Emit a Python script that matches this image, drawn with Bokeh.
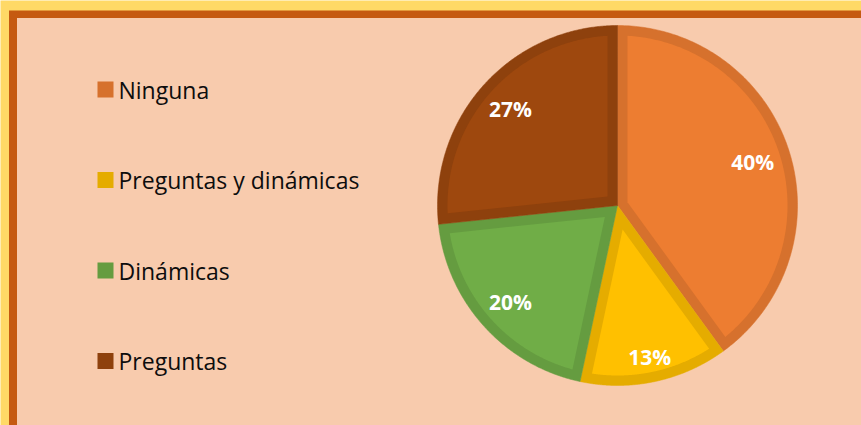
import numpy as np
from bokeh.plotting import figure
from bokeh.models import Range1d, ColumnDataSource
from bokeh.core.properties import value
from bokeh.embed import file_html
from bokeh.resources import INLINE

# ---------------- data ----------------
categories = ["Ninguna", "Preguntas y dinámicas", "Dinámicas", "Preguntas"]
counts = [6, 2, 3, 4]
fill_colors = ["#ED7D31", "#FFC000", "#70AD47", "#9E480E"]
edge_colors = ["#D6712D", "#E5AC00", "#659C40", "#8E410D"]

# ---------------- layout constants (page pixel coordinates) ----------------
CX, CY, R = 617.0, 205.0, 180.0
BAND = 10.0
LABEL_R = [0.79, 0.86, 0.80, 0.80]
LEG_SQ_X, LEG_TXT_X = 105.0, 118.0
LEG_Y0, LEG_DY = 89.0, 90.5

total = float(sum(counts))
fracs = [c / total for c in counts]
pct_labels = [f"{round(100 * f):d}%" for f in fracs]


def pt(t, r, cx=CX, cy=CY):
    # t: clockwise angle from 12 o'clock; y axis grows downward
    return cx + r * np.sin(t), cy - r * np.cos(t)


outer_xs, outer_ys, inner_xs, inner_ys, lab_x, lab_y = [], [], [], [], [], []
start = 0.0
for i, f in enumerate(fracs):
    t1, t2 = start, start + 2 * np.pi * f
    ts = np.linspace(t1, t2, 200)
    ax, ay = pt(ts, R)
    outer_xs.append(list(np.concatenate([[CX], ax])))
    outer_ys.append(list(np.concatenate([[CY], ay])))
    half = (t2 - t1) / 2
    mid = t1 + half
    apex_r = BAND / np.sin(min(half, np.pi / 2))
    px, py = pt(mid, apex_r)
    beta = np.arcsin(BAND / (R - BAND))
    ts2 = np.linspace(t1 + beta, t2 - beta, 200)
    bx, by = pt(ts2, R - BAND)
    inner_xs.append(list(np.concatenate([[px], bx])))
    inner_ys.append(list(np.concatenate([[py], by])))
    lx, ly = pt(mid, LABEL_R[i] * R)
    lab_x.append(lx)
    lab_y.append(ly)
    start = t2

W, H = 861, 425
p = figure(width=W, height=H, output_backend="svg", toolbar_location=None,
           x_range=Range1d(0, W), y_range=Range1d(H, 0),
           x_axis_type=None, y_axis_type=None, min_border=0)
p.grid.visible = False
p.outline_line_color = None
p.background_fill_color = "#FFD966"
p.border_fill_color = "#FFD966"

# frame bands
p.quad(left=[8.5], right=[900], top=[10], bottom=[500], fill_color="#C55A11", line_color=None)
p.quad(left=[16.5], right=[900], top=[17.5], bottom=[500], fill_color="#F8CBAD", line_color=None)

# pie
p.patches(xs=outer_xs, ys=outer_ys, fill_color=edge_colors, line_color=edge_colors, line_width=0.5)
p.patches(xs=inner_xs, ys=inner_ys, fill_color=fill_colors, line_color=None)

p.text(x=lab_x, y=lab_y, text=pct_labels, text_font=value("Open Sans"),
       text_font_size="21px", text_font_style="bold", text_color="white",
       text_align="center", text_baseline="middle")

# legend
leg_y = [LEG_Y0 + i * LEG_DY for i in range(len(categories))]
p.scatter(x=[LEG_SQ_X] * len(categories), y=leg_y, marker="square", size=16,
          fill_color=edge_colors, line_color=None)
p.text(x=[LEG_TXT_X] * len(categories), y=leg_y, text=categories,
       text_font=value("Open Sans"), text_font_size="23px", text_color="#0D0D0D",
       text_align="left", text_baseline="middle")

open("out.html", "w").write(file_html(p, INLINE))
